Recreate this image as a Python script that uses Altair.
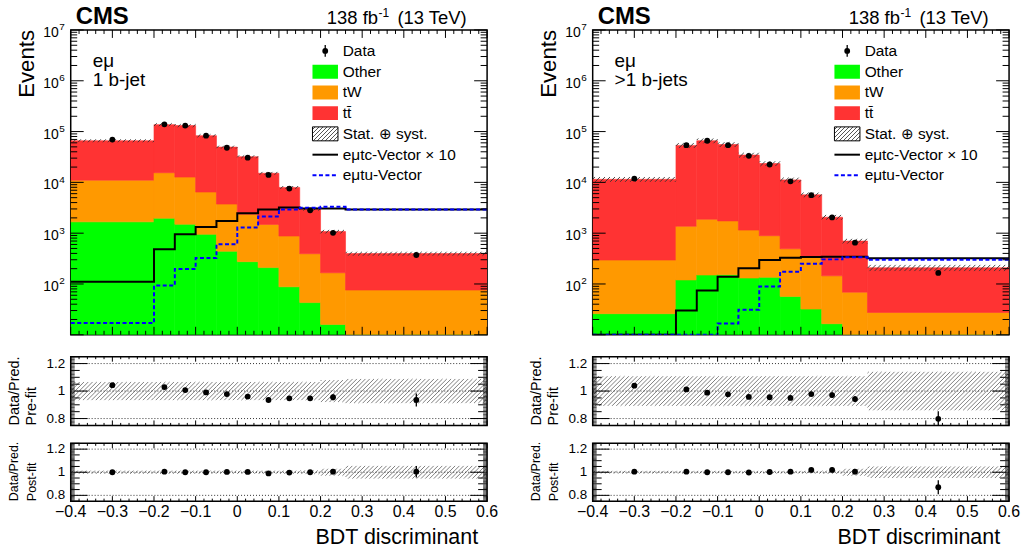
import altair as alt
import numpy as np
import pandas as pd

# ---- binning, axis ticks and labels -----------------------------------------
edges = [-0.4, -0.2, -0.15, -0.1, -0.05, 0.0, 0.05, 0.1, 0.15, 0.2, 0.26, 0.6]
centers = [-0.3, -0.175, -0.125, -0.075, -0.025, 0.025, 0.075, 0.125, 0.175, 0.23, 0.43]
x_tick_values = [-0.4, -0.3, -0.2, -0.1, 0.0, 0.1, 0.2, 0.3, 0.4, 0.5, 0.6]
x_tick_labels = ["\u22120.4", "\u22120.3", "\u22120.2", "\u22120.1", "0", "0.1",
                 "0.2", "0.3", "0.4", "0.5", "0.6"]
log_label_exponents = [2, 3, 4, 5, 6, 7]
ratio_tick_values = [0.8, 1.0, 1.2]
ratio_tick_labels = ["0.8", "1", "1.2"]

process_names = ["Other", "tW", "tt"]
process_colors = ["#00ff00", "#ff9900", "#ff3333"]

# ---- e mu, 1 b-jet ------------------------------------------------------------
one_other = [1670, 1970, 1500, 950, 440, 275, 210, 88, 43, 16, 4]
one_tw = [9400, 13500, 11200, 5500, 3300, 2080, 1280, 790, 350, 150, 72]
one_tt = [55000, 121500, 118300, 76500, 45700, 29600, 13600, 7070, 2580, 910, 320]
one_data = [69700, 139000, 131000, 83000, 48000, 30600, 14000, 7550, 2820, 1015, 372]
one_tc = [11.1, 48.5, 95.5, 132, 173, 246, 293, 320, 305, 305, 292]
one_tu = [17, 93, 197, 323, 605, 1290, 2140, 2920, 3150, 3310, 2920]
one_pre_ratio = [1.043, 1.029, 1.007, 0.99, 0.978, 0.96, 0.935, 0.947, 0.947, 0.955, 0.935]
one_pre_err = [0.004, 0.003, 0.003, 0.004, 0.005, 0.006, 0.008, 0.011, 0.016, 0.022, 0.048]
one_pre_unc = [0.066, 0.066, 0.066, 0.066, 0.066, 0.066, 0.066, 0.066, 0.066, 0.08, 0.088]
one_post_ratio = [1.0, 1.005, 1.0, 1.0, 1.003, 1.003, 0.99, 0.997, 1.0, 1.005, 1.005]
one_post_err = [0.004, 0.003, 0.003, 0.004, 0.005, 0.006, 0.008, 0.011, 0.016, 0.022, 0.05]
one_post_unc = [0.014, 0.014, 0.014, 0.014, 0.014, 0.014, 0.014, 0.014, 0.016, 0.03, 0.055]

# ---- e mu, >1 b-jets ----------------------------------------------------------
two_other = [26, 120, 150, 152, 131, 135, 57, 32, 16.5, 6, 3]
two_tw = [270, 1250, 1730, 1590, 1020, 755, 435, 300, 128, 63, 24.5]
two_tt = [11200, 52100, 64100, 53900, 33350, 22600, 10700, 5350, 1920, 630, 181]
two_data = [11900, 54000, 66000, 54000, 33300, 22500, 10500, 5600, 2040, 650, 165]
two_tc = [0.3, 3.0, 7.4, 13.8, 20.5, 29.5, 33, 34, 34.5, 34.5, 32]
two_tu = [3, 4, 6, 16.6, 31, 89, 174, 250, 305, 335, 300]
two_pre_ratio = [1.039, 1.012, 0.988, 0.976, 0.957, 0.955, 0.95, 0.978, 0.971, 0.942, 0.798]
two_pre_err = [0.01, 0.005, 0.004, 0.005, 0.006, 0.007, 0.01, 0.014, 0.02, 0.022, 0.055]
two_pre_unc = [0.108, 0.108, 0.108, 0.108, 0.108, 0.108, 0.108, 0.108, 0.108, 0.108, 0.14]
two_post_ratio = [1.005, 1.005, 1.0, 1.0, 0.998, 1.002, 1.005, 1.02, 1.02, 1.005, 0.87]
two_post_err = [0.01, 0.005, 0.004, 0.005, 0.006, 0.007, 0.01, 0.014, 0.02, 0.022, 0.06]
two_post_unc = [0.012, 0.012, 0.012, 0.012, 0.012, 0.012, 0.012, 0.012, 0.014, 0.03, 0.05]

SIGNAL_SCALE = 10  # the tc signal is drawn enlarged by this factor

# ---- geometry & shared scales -------------------------------------------------
W = 418
H_MAIN, H_PRE, H_POST = 306, 69, 58
FONT = "Liberation Sans"
LOG_MIN, LOG_MAX = 1, 7          # decades of the event axis
R_MIN, R_MAX = 0.75, 1.25        # ratio axis range

XS = alt.Scale(domain=[-0.4, 0.6], nice=False, zero=False)
YLOG = alt.Scale(type="log", domain=[10.0 ** LOG_MIN, 10.0 ** LOG_MAX], nice=False, clamp=True)
YRAT = alt.Scale(domain=[R_MIN, R_MAX], nice=False, zero=False)
PROC = alt.Scale(domain=process_names, range=process_colors)


def xq(field):
    return alt.X(f"{field}:Q", scale=XS, axis=None)


def ylog(field):
    return alt.Y(f"{field}:Q", scale=YLOG, axis=None)


def yrat(field):
    return alt.Y(f"{field}:Q", scale=YRAT, axis=None)


# pixel <-> value helpers used to lay out the 45 degree hatch pattern
def px_x(v):
    return (v - XS.domain[0]) / (XS.domain[1] - XS.domain[0]) * W


def val_x(p):
    return XS.domain[0] + p / W * (XS.domain[1] - XS.domain[0])


def log_px(h):
    return lambda v: h * (LOG_MAX - np.log10(min(max(v, 10.0 ** LOG_MIN), 10.0 ** LOG_MAX))) / (LOG_MAX - LOG_MIN)


def log_val(h):
    return lambda p: 10.0 ** (LOG_MAX - p / h * (LOG_MAX - LOG_MIN))


def rat_px(h):
    return lambda v: (R_MAX - v) / (R_MAX - R_MIN) * h


def rat_val(h):
    return lambda p: R_MAX - p / h * (R_MAX - R_MIN)


def hatch_rows(lo_vals, hi_vals, period, to_px, to_val):
    """Diagonal '/' hatch segments filling each bin between lo and hi."""
    rows = []
    for i in range(len(lo_vals)):
        x0, x1 = px_x(edges[i]), px_x(edges[i + 1])
        yt, yb = to_px(hi_vals[i]), to_px(lo_vals[i])
        c = np.ceil((x0 + yt) / period) * period
        while c <= x1 + yb:
            ya = max(yt, c - x1)
            yz = min(yb, c - x0)
            if yz - ya > 0.3:
                rows.append({"xa": val_x(c - ya), "ya": to_val(ya),
                             "xb": val_x(c - yz), "yb": to_val(yz)})
            c += period
    return pd.DataFrame(rows)


def hatch_gradient(w, h, period, width, color):
    """Hatching as a hard-stop linear gradient over a small w x h box."""
    span = float(w + h)
    clear = "rgba(255,255,255,0)"
    stops = [alt.GradientStop(offset=0, color=clear)]
    pos = period * 0.5
    while pos < span:
        a = pos / span
        b = min((pos + width) / span, 1.0)
        stops += [alt.GradientStop(offset=a, color=clear),
                  alt.GradientStop(offset=a, color=color),
                  alt.GradientStop(offset=b, color=color),
                  alt.GradientStop(offset=b, color=clear)]
        pos += period
    r = h / float(w)
    k = (1 + r) / (1 + r * r)
    return alt.LinearGradient(gradient="linear", stops=stops, x1=0, y1=0, x2=k, y2=k * r)


def txt(s, x, y, size, align="left", baseline="alphabetic", angle=0, weight="normal"):
    return alt.Chart(pd.DataFrame({"s": [s]})).mark_text(
        align=align, baseline=baseline, angle=angle, fontSize=size,
        fontWeight=weight, font=FONT, color="black"
    ).encode(x=alt.value(x), y=alt.value(y), text="s:N")


def anchor(x0, x1, y0, y1):
    # invisible box that fixes the extent of each cell in the layout
    return alt.Chart(pd.DataFrame({"a": [0]})).mark_rect(opacity=0, clip=False).encode(
        x=alt.value(x0), x2=alt.value(x1), y=alt.value(y0), y2=alt.value(y1))


def step_rows(vals):
    rows = []
    for i, v in enumerate(vals):
        rows.append({"x": edges[i], "y": v, "k": 2 * i})
        rows.append({"x": edges[i + 1], "y": v, "k": 2 * i + 1})
    return pd.DataFrame(rows)


def hatch_layer(df, yenc, color, width):
    return alt.Chart(df).mark_rule(color=color, strokeWidth=width, clip=True).encode(
        x=xq("xa"), x2=alt.X2("xb"), y=yenc("ya"), y2=alt.Y2("yb"))


def x_ticks(h, major_len, minor_len):
    minor = [round(-0.4 + 0.02 * i, 2) for i in range(51)]
    minor = [v for v in minor if abs(v * 10 - round(v * 10)) > 1e-6]
    out = []
    for vals, ln in ((x_tick_values, major_len), (minor, minor_len)):
        base = alt.Chart(pd.DataFrame({"v": vals})).mark_rule(color="black", strokeWidth=1)
        out.append(base.encode(x=xq("v"), y=alt.value(h), y2=alt.value(h - ln)))
        out.append(base.encode(x=xq("v"), y=alt.value(0), y2=alt.value(ln)))
    return out


def y_ticks(groups, yenc):
    out = []
    for vals, ln, sw in groups:
        base = alt.Chart(pd.DataFrame({"v": vals})).mark_rule(color="black", strokeWidth=sw)
        out.append(base.encode(y=yenc("v"), x=alt.value(0), x2=alt.value(ln)))
        out.append(base.encode(y=yenc("v"), x=alt.value(W), x2=alt.value(W - ln)))
    return out


def legend_layers():
    x0, x1, tx = 242.7, 268.3, 273
    rows = [21, 42, 62.7, 83.5, 104.3, 125.2, 145.8]
    names = ["Data", "Other", "tW", "tt\u0304", "Stat. \u2295 syst.",
             "e\u03bctc-Vector \u00d7 10", "e\u03bctu-Vector"]
    one = pd.DataFrame({"a": [0]})
    out = []
    out.append(alt.Chart(one).mark_rule(color="black", strokeWidth=1.3).encode(
        x=alt.value(255.5), y=alt.value(rows[0] - 6), y2=alt.value(rows[0] + 6)))
    out.append(alt.Chart(one).mark_circle(size=34, color="black", opacity=1).encode(
        x=alt.value(255.5), y=alt.value(rows[0])))
    for j, col in enumerate(process_colors):
        out.append(alt.Chart(one).mark_rect(color=col).encode(
            x=alt.value(x0), x2=alt.value(x1),
            y=alt.value(rows[j + 1] - 7), y2=alt.value(rows[j + 1] + 7)))
    out.append(alt.Chart(one).mark_rect(
        fill=hatch_gradient(x1 - x0, 14, 4.0, 1.0, "#555555"), stroke="black", strokeWidth=1).encode(
        x=alt.value(x0), x2=alt.value(x1), y=alt.value(rows[4] - 7), y2=alt.value(rows[4] + 7)))
    out.append(alt.Chart(one).mark_rule(color="black", strokeWidth=2).encode(
        x=alt.value(x0), x2=alt.value(x1), y=alt.value(rows[5])))
    out.append(alt.Chart(one).mark_rule(color="#0000ff", strokeWidth=2, strokeDash=[4, 2.5]).encode(
        x=alt.value(x0), x2=alt.value(x1), y=alt.value(rows[6])))
    for name, yy in zip(names, rows):
        out.append(txt(name, tx, yy, 15.5, baseline="middle"))
    return out


def main_panel(other, tw, tt, data, tc, tu, unc, channel, x_extent):
    n = len(other)
    total = [other[i] + tw[i] + tt[i] for i in range(n)]
    rows = []
    for i in range(n):
        cum = 0.0
        for name, v in zip(process_names, (other[i], tw[i], tt[i])):
            rows.append({"lo": edges[i], "hi": edges[i + 1], "y0": max(cum, 1.0),
                         "y1": cum + v, "proc": name})
            cum += v

    band = hatch_rows([t * (1 - u) for t, u in zip(total, unc)],
                      [t * (1 + u) for t, u in zip(total, unc)],
                      5.0, log_px(H_MAIN), log_val(H_MAIN))

    layers = [anchor(-70, x_extent, -28, H_MAIN + 10)]
    layers.append(alt.Chart(pd.DataFrame(rows)).mark_rect(strokeWidth=0.6, clip=True).encode(
        x=xq("lo"), x2=alt.X2("hi"), y=ylog("y0"), y2=alt.Y2("y1"),
        fill=alt.Fill("proc:N", scale=PROC, legend=None),
        stroke=alt.Stroke("proc:N", scale=PROC, legend=None)))
    layers.append(hatch_layer(band, ylog, "#333333", 0.9))
    layers.append(alt.Chart(step_rows([v * SIGNAL_SCALE for v in tc])).mark_line(
        color="black", strokeWidth=2, clip=True).encode(x=xq("x"), y=ylog("y"), order="k:Q"))
    layers.append(alt.Chart(step_rows(tu)).mark_line(
        color="#0000ff", strokeWidth=2, strokeDash=[4, 2.5], clip=True).encode(
        x=xq("x"), y=ylog("y"), order="k:Q"))
    layers.append(alt.Chart(pd.DataFrame({"c": centers, "n": data})).mark_circle(
        size=34, color="black", opacity=1).encode(x=xq("c"), y=ylog("n")))

    layers += x_ticks(H_MAIN, 8, 4)
    major = [10.0 ** e for e in range(LOG_MIN, LOG_MAX + 1)]
    minor = [m * 10.0 ** e for e in range(LOG_MIN, LOG_MAX) for m in range(2, 10)]
    layers += y_ticks([(major, 13, 1), (minor, 6.5, 1)], ylog)

    lab = pd.DataFrame({"v": [10.0 ** e for e in log_label_exponents],
                        "e": [str(e) for e in log_label_exponents]})
    layers.append(alt.Chart(lab).mark_text(align="right", baseline="alphabetic", fontSize=14,
                                           font=FONT, dy=7, color="black").encode(
        y=ylog("v"), x=alt.value(-12), text=alt.value("10")))
    layers.append(alt.Chart(lab).mark_text(align="left", baseline="alphabetic", fontSize=10,
                                           font=FONT, dy=0.5, color="black").encode(
        y=ylog("v"), x=alt.value(-11.5), text="e:N"))

    layers.append(txt("Events", -37, 0, 22.3, align="right", angle=270))
    layers.append(txt("CMS", 5, -6, 24, weight="bold"))
    layers.append(txt("138 fb", 308.5, -6, 18.5, align="right"))
    layers.append(txt("-1", 309, -13, 12))
    layers.append(txt("(13 TeV)", 328, -6, 18.5))
    layers.append(txt("e\u03bc", 22, 37, 19))
    layers.append(txt(channel, 22, 56, 19))
    layers += legend_layers()
    return alt.layer(*layers).properties(width=W, height=H_MAIN)


def ratio_panel(h, vals, errs, unc, line1, line2, tsize, tx1, tx2, x_extent,
                top_ext, bot_ext, bottom):
    band = hatch_rows([1 - u for u in unc], [1 + u for u in unc], 4.3, rat_px(h), rat_val(h))
    layers = [anchor(-70, x_extent, -top_ext, h + bot_ext)]
    layers.append(hatch_layer(band, yrat, "#808080", 1.0))
    layers.append(alt.Chart(pd.DataFrame({"v": ratio_tick_values})).mark_rule(
        color="#333333", strokeWidth=1, strokeDash=[1, 2]).encode(
        y=yrat("v"), x=alt.value(0), x2=alt.value(W)))
    pts = pd.DataFrame({"c": centers, "r": vals,
                        "lo": [v - e for v, e in zip(vals, errs)],
                        "hi": [v + e for v, e in zip(vals, errs)]})
    layers.append(alt.Chart(pts).mark_rule(color="black", strokeWidth=1.3, clip=True).encode(
        x=xq("c"), y=yrat("lo"), y2=alt.Y2("hi")))
    layers.append(alt.Chart(pts).mark_circle(size=34, color="black", opacity=1).encode(
        x=xq("c"), y=yrat("r")))

    layers += x_ticks(h, 5, 2.5)
    grid = [round(R_MIN + 0.01 * i, 2) for i in range(51)]
    medium = [v for v in grid if abs(v * 20 - round(v * 20)) < 1e-6 and v not in ratio_tick_values]
    fine = [v for v in grid if abs(v * 20 - round(v * 20)) > 1e-6]
    layers += y_ticks([(fine, 4, 0.7), (medium, 9, 1), (ratio_tick_values, 17, 1)], yrat)

    lab = pd.DataFrame({"v": ratio_tick_values, "t": ratio_tick_labels})
    layers.append(alt.Chart(lab).mark_text(align="right", baseline="middle", fontSize=13.5,
                                           font=FONT, color="black").encode(
        y=yrat("v"), x=alt.value(-5.5), text="t:N"))
    layers.append(txt(line1, tx1, h, tsize, align="left", angle=270))
    layers.append(txt(line2, tx2, h, tsize, align="left", angle=270))
    if bottom:
        xl = pd.DataFrame({"v": x_tick_values, "t": x_tick_labels})
        layers.append(alt.Chart(xl).mark_text(baseline="middle", fontSize=16, font=FONT,
                                              color="black").encode(
            x=xq("v"), y=alt.value(h + 11), text="t:N"))
        layers.append(txt("BDT discriminant", 409, h + 43, 21.5, align="right"))
    return alt.layer(*layers).properties(width=W, height=h)


def column(other, tw, tt, data, tc, tu, pre_r, pre_e, pre_u, post_r, post_e, post_u,
           channel, x_extent):
    main = main_panel(other, tw, tt, data, tc, tu, pre_u, channel, x_extent)
    pre = ratio_panel(H_PRE, pre_r, pre_e, pre_u, "Data/Pred.", "Pre-fit", 14.5,
                      -51.5, -34.5, x_extent, 10, 8, False)
    post = ratio_panel(H_POST, post_r, post_e, post_u, "Data/Pred.", "Post-fit", 12.5,
                       -52.5, -34.5, x_extent, 8, 53, True)
    return alt.vconcat(main, pre, post, spacing=0)


left = column(one_other, one_tw, one_tt, one_data, one_tc, one_tu,
              one_pre_ratio, one_pre_err, one_pre_unc,
              one_post_ratio, one_post_err, one_post_unc, "1 b-jet", 448)
right = column(two_other, two_tw, two_tt, two_data, two_tc, two_tu,
               two_pre_ratio, two_pre_err, two_pre_unc,
               two_post_ratio, two_post_err, two_post_unc, ">1 b-jets", 433)

chart = alt.hconcat(left, right, spacing=4).properties(
    padding=0, background="white"
).configure_view(stroke="black", strokeWidth=1.5)

chart.save("out.html", embed_options={"renderer": "svg", "actions": False})
